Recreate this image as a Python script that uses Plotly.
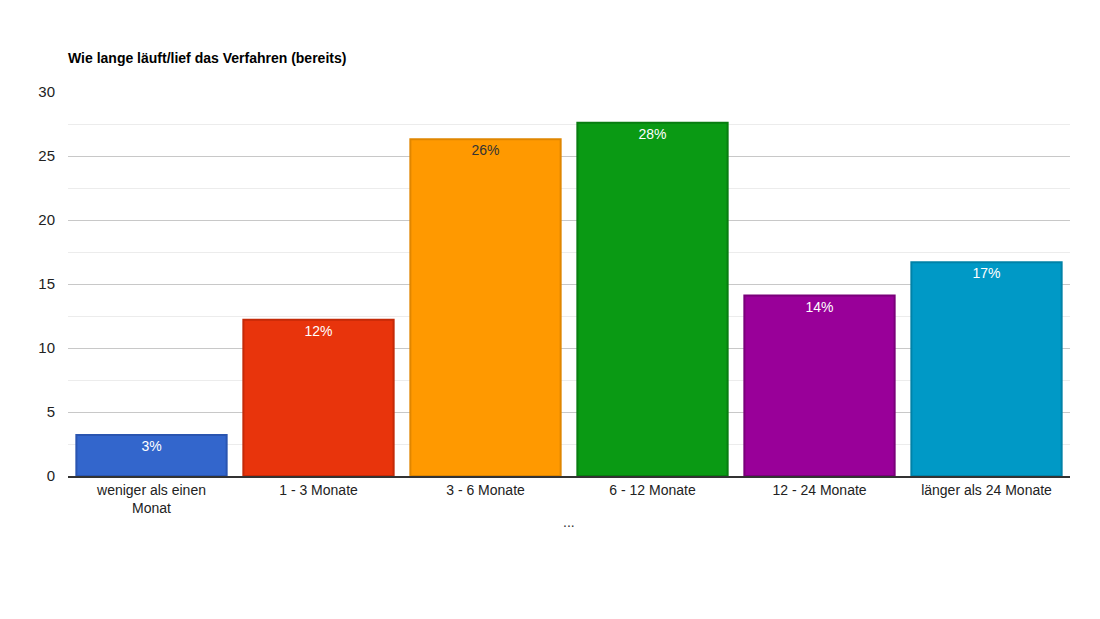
import plotly.graph_objects as go

categories = ["weniger als einen<br>Monat", "1 - 3 Monate", "3 - 6 Monate", "6 - 12 Monate", "12 - 24 Monate", "länger als 24 Monate"]
values = [3.2, 12.2, 26.3, 27.6, 14.1, 16.7]
labels = ["3%", "12%", "26%", "28%", "14%", "17%"]
colors = ["#3366cc", "#e8340c", "#ff9900", "#0a9a14", "#990099", "#0099c6"]
borders = ["#2a55b0", "#c42a08", "#e08600", "#087d10", "#7a007a", "#0082a8"]
text_colors = ["white", "white", "#333333", "white", "white", "white"]

fig = go.Figure(go.Bar(
    x=categories, y=values, text=labels, textposition="inside", insidetextanchor="end",
    textfont=dict(color=text_colors, size=14, family="Arial"),
    marker=dict(color=colors, line=dict(color=borders, width=2)),
    hoverinfo="skip",
))
fig.update_layout(
    width=1100, height=619, paper_bgcolor="white", plot_bgcolor="white",
    margin=dict(l=60, r=38, t=84, b=151),
    bargap=0.1, showlegend=False,
    font=dict(family="Arial", size=14, color="#222222"),
    title=dict(text="<b>Wie lange läuft/lief das Verfahren (bereits)</b>", x=0, xref="paper",
               y=1 - 50/619, yanchor="middle", font=dict(size=14, color="#000")),
    uniformtext=dict(minsize=14, mode="show"),
)
fig.update_xaxes(showline=True, linecolor="#333", linewidth=1.5, ticks="", tickfont=dict(size=14))
fig.update_yaxes(range=[0, 30], dtick=5, gridcolor="#c8c8c8", zeroline=False,
                 minor=dict(dtick=2.5, showgrid=True, gridcolor="#ececec"),
                 tickfont=dict(size=15), ticklabelstandoff=12)
fig.add_annotation(text="...", xref="paper", yref="paper", x=0.5, y=-0.145, showarrow=False,
                   font=dict(size=14, color="#333"))
fig.write_html("out.html")
